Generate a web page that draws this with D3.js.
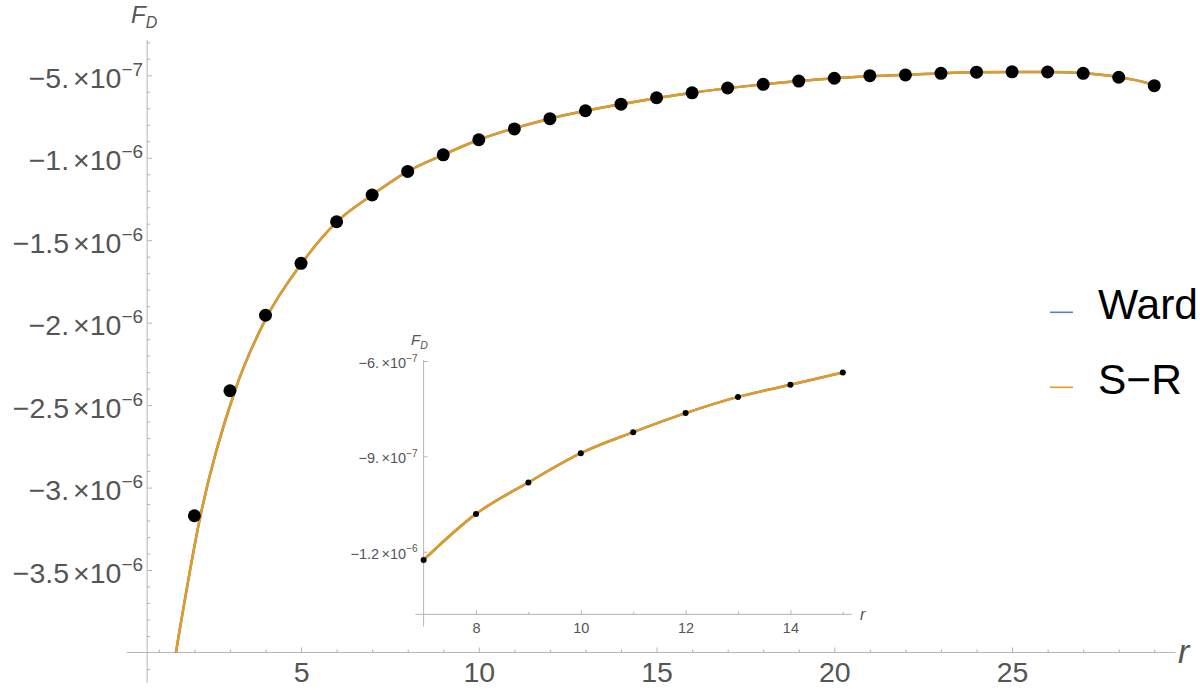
<!DOCTYPE html>
<html>
<head>
<meta charset="utf-8">
<script src="https://cdn.jsdelivr.net/npm/d3@7"></script>
<style>
  body { margin: 0; background: #fff; }
  svg { display: block; font-family: "Liberation Sans", Arial, sans-serif; }
  .axis line { stroke: #b4b4b4; }
  .axis text { fill: #555; }
  .axisline { stroke: #b4b4b4; stroke-width: 1; }
</style>
</head>
<body>
<svg width="1200" height="690"></svg>
<script>
// measured points (F_D in units of 1e-6)
const dotR = [2, 3, 4, 5, 6, 7, 8, 9, 10, 11, 12, 13, 14, 15, 16, 17, 18, 19, 20, 21, 22, 23, 24, 25, 26, 27, 28, 29]
const dotF = [-3.171, -2.413, -1.955, -1.640, -1.388, -1.226, -1.083, -0.982, -0.891, -0.825, -0.763, -0.715, -0.675, -0.636,
              -0.606, -0.577, -0.555, -0.535, -0.518, -0.502, -0.498, -0.488, -0.481, -0.479, -0.480, -0.488, -0.512, -0.563]

// fitted curve (Ward lies under S-R)
const fitR = [1.48, 2.17, 3.14, 4, 5, 6, 7, 8, 9, 10, 12, 14, 16, 18, 20, 22, 24, 26, 27, 28, 29, 29.15]
const fitF = [-4.0, -3.171, -2.413, -1.98, -1.645, -1.39, -1.226, -1.083, -0.982, -0.891, -0.763, -0.675, -0.606, -0.555,
              -0.518, -0.497, -0.481, -0.480, -0.488, -0.512, -0.563, -0.578]

// inset
const insetR = [7, 8, 9, 10, 11, 12, 13, 14, 15]
const insetF = [-1.226, -1.081, -0.982, -0.890, -0.824, -0.764, -0.713, -0.675, -0.636]

// ticks
const xMajor = [5, 10, 15, 20, 25]
const yMajor = [-0.5, -1, -1.5, -2, -2.5, -3, -3.5]
const yMant = ["\u22125.", "\u22121.", "\u22121.5", "\u22122.", "\u22122.5", "\u22123.", "\u22123.5"]
const yExp = ["\u22127", "\u22126", "\u22126", "\u22126", "\u22126", "\u22126", "\u22126"]
const insetXMajor = [8, 10, 12, 14]
const insetYMajor = [-0.6, -0.9, -1.2]
const insetYMant = ["\u22126.", "\u22129.", "\u22121.2"]
const insetYExp = ["\u22127", "\u22127", "\u22126"]

const legendNames = ["Ward", "S\u2212R"]
const colors = {ward: "#5E81B5", sr: "#E19C24"}

const svg = d3.select("svg")

const x = d3.scaleLinear().domain([0, 29.6]).range([123.3, 1175.6]),
      y = d3.scaleLinear().domain([-4, -0.5]).range([652.45, 75.3])

const line = d3.line()
  .x(d => x(d.r))
  .y(d => y(d.f))
  .curve(d3.curveMonotoneX)

const fit = fitR.map((r, i) => ({r: r, f: fitF[i]}))
const dots = dotR.map((r, i) => ({r: r, f: dotF[i]}))

function styleTicks(g) {
  g.select(".domain").remove()
}

// x axis
svg.append("line").attr("class", "axisline")
  .attr("x1", x(0.1)).attr("x2", x(29.6)).attr("y1", y(-4)).attr("y2", y(-4))

svg.append("g").attr("class", "axis")
  .attr("transform", "translate(0," + y(-4) + ")")
  .call(d3.axisBottom(x).tickValues(d3.range(1, 30).filter(d => d % 5 !== 0)).tickSize(-3).tickFormat(""))
  .call(styleTicks)

svg.append("g").attr("class", "axis")
  .attr("transform", "translate(0," + y(-4) + ")")
  .call(d3.axisBottom(x).tickValues(xMajor).tickSize(-5).tickFormat(d => d))
  .call(styleTicks)
  .selectAll("text")
    .attr("y", 29.5).attr("dy", 0)
    .style("font-size", "28.5px")

// y axis
const yAxisX = x(0.67)
svg.append("line").attr("class", "axisline")
  .attr("x1", yAxisX).attr("x2", yAxisX).attr("y1", y(-0.286)).attr("y2", y(-4.185))

svg.append("g").attr("class", "axis")
  .attr("transform", "translate(" + yAxisX + ",0)")
  .call(d3.axisLeft(y).tickValues(d3.range(3, 42).filter(i => i % 5 !== 0).map(i => -i / 10)).tickSize(-3).tickFormat(""))
  .call(styleTicks)

const yLabels = svg.append("g").attr("class", "axis")
  .attr("transform", "translate(" + yAxisX + ",0)")
  .call(d3.axisLeft(y).tickValues(yMajor).tickSize(-5).tickFormat((d, i) => yMant[i]))
  .call(styleTicks)
  .selectAll("text")
    .attr("x", -4).attr("dy", 12)
    .style("font-size", "28.5px")

yLabels.append("tspan").attr("dx", 4).text("\u00d710")
yLabels.append("tspan").attr("dy", -12).style("font-size", "19px").text((d, i) => yExp[i])

// axis titles
const fd = svg.append("text").attr("x", 131).attr("y", 23)
  .style("font-size", "24px").style("font-style", "italic").style("fill", "#555")
fd.append("tspan").text("F")
fd.append("tspan").attr("dy", 5).style("font-size", "16px").text("D")

svg.append("text").attr("x", 1178).attr("y", 663)
  .style("font-size", "34px").style("font-style", "italic").style("fill", "#555")
  .text("r")

// curves and points
svg.append("path").datum(fit)
  .attr("d", line).attr("fill", "none")
  .attr("stroke", colors.ward).attr("stroke-width", 2.5)

svg.append("path").datum(fit)
  .attr("d", line).attr("fill", "none")
  .attr("stroke", colors.sr).attr("stroke-width", 2.5)

svg.selectAll(".dot")
  .data(dots)
  .enter().append("circle")
    .attr("class", "dot")
    .attr("cx", d => x(d.r))
    .attr("cy", d => y(d.f))
    .attr("r", 6.5)
    .style("fill", "#000")

// inset
const xi = d3.scaleLinear().domain([7, 15]).range([423.6, 842.8]),
      yi = d3.scaleLinear().domain([-1.2, -0.6]).range([551.7, 361])

const lineInset = d3.line()
  .x(d => xi(d.r))
  .y(d => yi(d.f))
  .curve(d3.curveMonotoneX)

const inset = insetR.map((r, i) => ({r: r, f: insetF[i]}))

svg.append("line").attr("class", "axisline")
  .attr("x1", xi(6.84)).attr("x2", xi(15.17)).attr("y1", yi(-1.397)).attr("y2", yi(-1.397))
svg.append("line").attr("class", "axisline")
  .attr("x1", xi(7)).attr("x2", xi(7)).attr("y1", yi(-0.597)).attr("y2", yi(-1.436))

svg.append("g").attr("class", "axis")
  .attr("transform", "translate(0," + yi(-1.397) + ")")
  .call(d3.axisBottom(xi).tickValues([9, 11, 13, 15]).tickSize(-2.5).tickFormat(""))
  .call(styleTicks)

svg.append("g").attr("class", "axis")
  .attr("transform", "translate(0," + yi(-1.397) + ")")
  .call(d3.axisBottom(xi).tickValues(insetXMajor).tickSize(-4).tickFormat(d => d))
  .call(styleTicks)
  .selectAll("text")
    .attr("y", 19).attr("dy", 0)
    .style("font-size", "14.5px")

const yiLabels = svg.append("g").attr("class", "axis")
  .attr("transform", "translate(" + xi(7) + ",0)")
  .call(d3.axisLeft(yi).tickValues(insetYMajor).tickSize(-4).tickFormat((d, i) => insetYMant[i]))
  .call(styleTicks)
  .selectAll("text")
    .attr("x", -6).attr("dy", 6.6)
    .style("font-size", "14.5px")

yiLabels.append("tspan").attr("dx", 2.5).text("\u00d710")
yiLabels.append("tspan").attr("dy", -6.6).style("font-size", "10px").text((d, i) => insetYExp[i])

const fdi = svg.append("text").attr("x", 411).attr("y", 345)
  .style("font-size", "15px").style("font-style", "italic").style("fill", "#555")
fdi.append("tspan").text("F")
fdi.append("tspan").attr("dy", 3.5).style("font-size", "10.5px").text("D")

svg.append("text").attr("x", 860).attr("y", 620)
  .style("font-size", "16px").style("font-style", "italic").style("fill", "#555")
  .text("r")

svg.append("path").datum(inset)
  .attr("d", lineInset).attr("fill", "none")
  .attr("stroke", colors.ward).attr("stroke-width", 2.5)
svg.append("path").datum(inset)
  .attr("d", lineInset).attr("fill", "none")
  .attr("stroke", colors.sr).attr("stroke-width", 2.5)

svg.selectAll(".idot")
  .data(inset)
  .enter().append("circle")
    .attr("class", "idot")
    .attr("cx", d => xi(d.r))
    .attr("cy", d => yi(d.f))
    .attr("r", 3)
    .style("fill", "#000")

// legend
const legendColors = [colors.ward, colors.sr]
const legend = svg.selectAll(".legend")
  .data(legendNames)
  .enter().append("g")
    .attr("class", "legend")
    .attr("transform", (d, i) => "translate(1050," + (312.3 + i * 75) + ")")

legend.append("line")
  .attr("x1", 0).attr("x2", 23).attr("y1", 0).attr("y2", 0)
  .attr("stroke", (d, i) => legendColors[i]).attr("stroke-width", 1.6)

legend.append("text")
  .attr("x", 48).attr("y", 7)
  .style("font-size", "42.5px").style("fill", "#000")
  .text(d => d)
</script>
</body>
</html>
